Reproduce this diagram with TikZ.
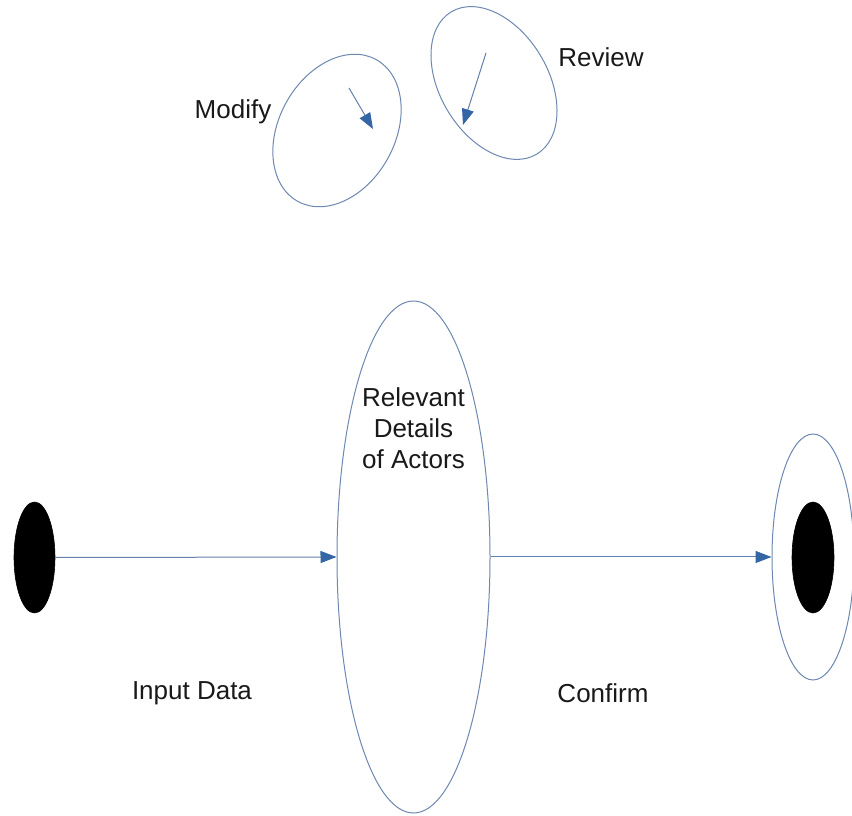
\documentclass[tikz,border=0pt]{standalone}
\usepackage{fontspec}
\setmainfont{Liberation Sans}
\usetikzlibrary{shapes.geometric,arrows.meta}
\definecolor{edgeblue}{RGB}{110,136,178}
\definecolor{arrowblue}{RGB}{52,101,164}
\definecolor{lineblue}{RGB}{100,128,172}
\tikzset{
  outline/.style={ellipse,draw=edgeblue,line width=1pt,inner sep=0pt,fill=white},
  blackdot/.style={ellipse,fill=black,draw=black,line width=0.6pt,inner sep=0pt},
  flow/.style={draw=lineblue,line width=1pt,-{Triangle[length=16pt,width=12pt,color=arrowblue]}},
  lbl/.style={font=\fontsize{26}{31}\selectfont,text=black!90,inner sep=0pt}
}
\begin{document}
\begin{tikzpicture}[x=1pt,y=1pt]
\useasboundingbox (0,0) rectangle (852,815);
% top ellipses
\node[outline,minimum width=116pt,minimum height=162pt,rotate=-29] (modify) at (337,684.5) {};
\node[outline,minimum width=108pt,minimum height=166pt,rotate=31] (review) at (494,732) {};
\coordinate (m1) at (349,727);
\coordinate (m2) at (373,686);
\coordinate (r1) at (486,762);
\coordinate (r2) at (463,690);
\draw[flow] (m1) -- (m2);
\draw[flow] (r1) -- (r2);
\node[lbl] (modlbl) at (233,703) {Modify};
\node[lbl] (revlbl) at (601,758) {Review};
% main flow
\node[blackdot,minimum width=41pt,minimum height=111pt] (start) at (34.5,257.5) {};
\node[outline,minimum width=153pt,minimum height=512pt] (details) at (413.5,258) {};
\node[outline,minimum width=82pt,minimum height=246pt] (endout) at (813,258) {};
\node[blackdot,minimum width=42pt,minimum height=111pt] (endin) at (813,257.5) {};
\node[lbl,align=center] (dtext) at (413.5,387) {Relevant\\Details\\of Actors};
\draw[flow] (start.east) -- (details.west);
\draw[flow] (details.east) -- (endout.west);
\node[lbl] (inlbl) at (192,122) {Input Data};
\node[lbl] (conflbl) at (603,122) {Confirm};
\end{tikzpicture}
\end{document}
